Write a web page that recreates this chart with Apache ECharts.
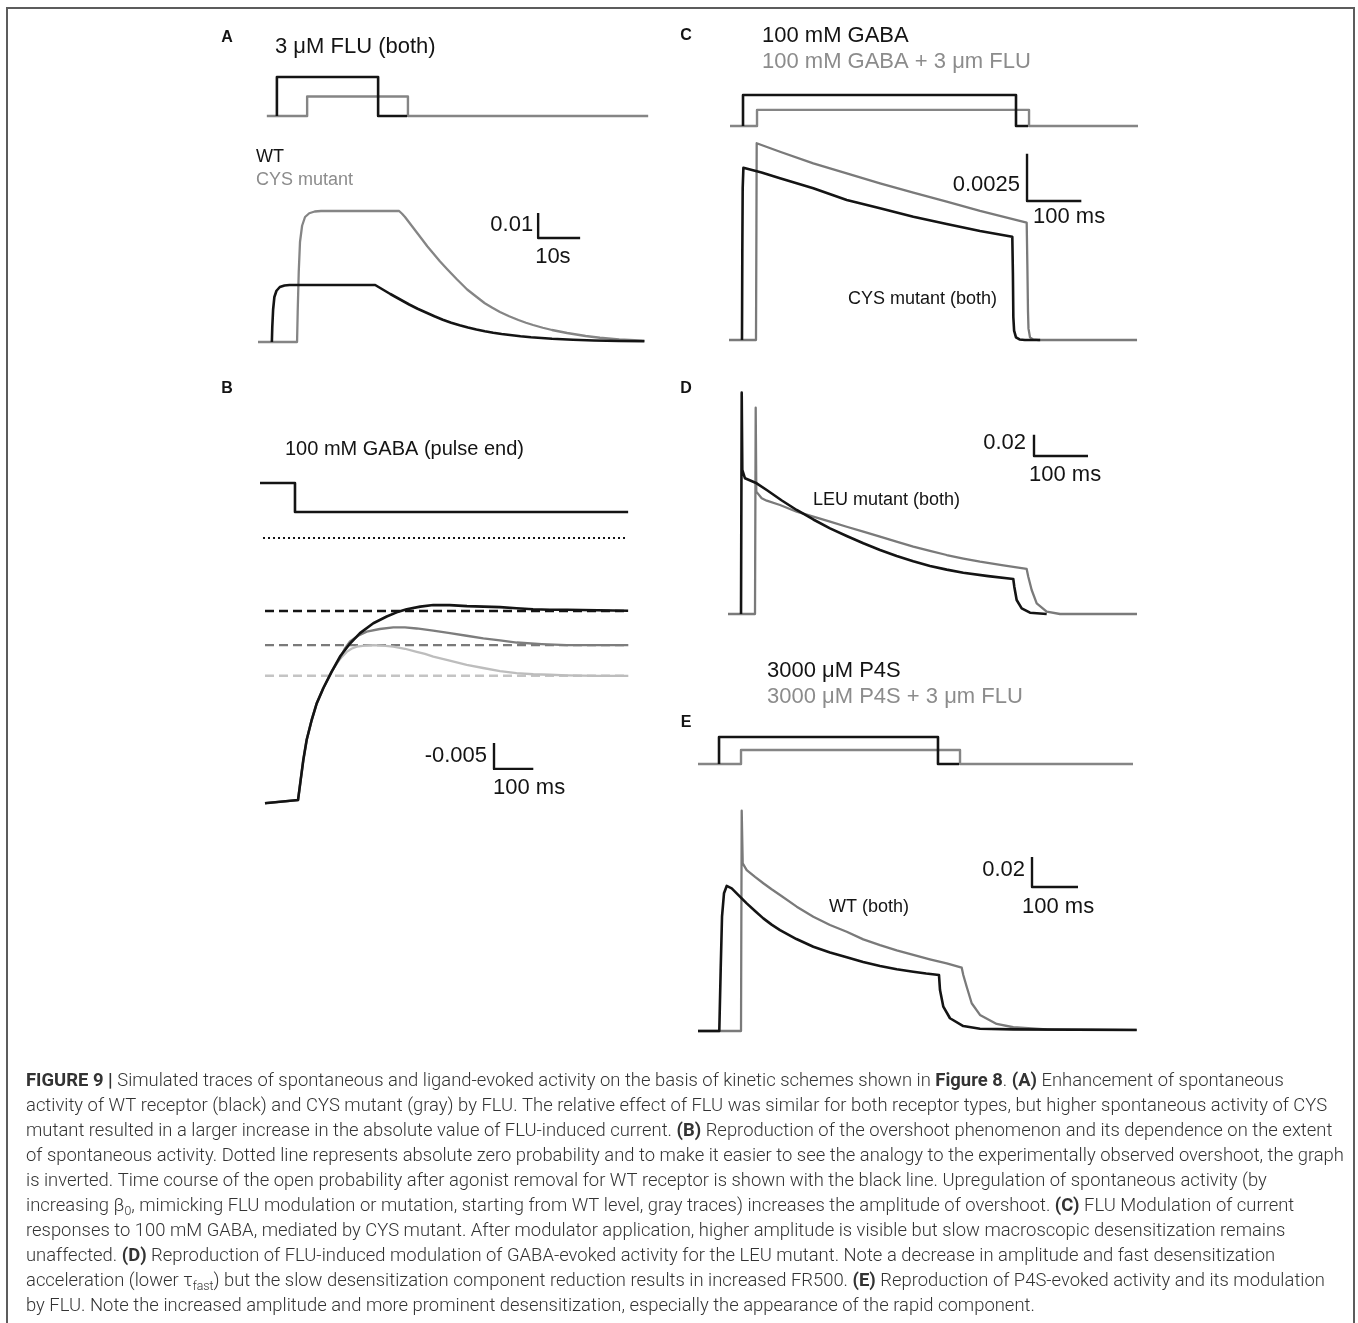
<!DOCTYPE html>
<html>
<head>
<meta charset="utf-8">
<title>Figure 9</title>
<style>
  html, body { margin: 0; padding: 0; background: #fff; }
  #fig { width: 1358px; height: 1323px; }
</style>
<script src="https://cdn.jsdelivr.net/npm/echarts@6.0.0/dist/echarts.min.js"></script>
</head>
<body>
<div id="fig"></div>
<script>
// ---------- data ----------
// A: spontaneous activity (time in s, open probability)
const aStimWT   = [[4.5,0],[4.5,1],[28.6,1],[28.6,0],[35.5,0]];
const aStimCYS  = [[2.1,0],[11.7,0],[11.7,0.5],[35.7,0.5],[35.7,0],[92.9,0]];
const aWT  = [[3.3,0],[3.4,0.006],[3.6,0.013],[3.9,0.018],[4.4,0.0205],[5.2,0.022],[6.3,0.0226],[7.5,0.0228],
  [27.9,0.0228],[29,0.0217],[30,0.0207],[31.5,0.0192],[33,0.0178],[34.5,0.0164],[36,0.015],[38,0.0133],
  [40,0.0118],[42,0.0103],[44,0.0089],[46,0.0077],[48,0.0067],[50,0.0058],[52,0.005],[54,0.0043],
  [56,0.0037],[58,0.0032],[60,0.0028],[62.5,0.0023],[65,0.0019],[67.5,0.0016],[70,0.0013],[72.5,0.0011],
  [75,0.0009],[80,0.0006],[86,0.0004],[92,0.0003]];
const aCYS = [[0,0],[9.3,0],[9.45,0.012],[9.7,0.028],[10,0.04],[10.5,0.0465],[11.2,0.05],[12.2,0.0515],
  [13.5,0.0522],[15,0.0524],[33.6,0.0524],[34.3,0.0513],[35,0.05],[36,0.0478],[37,0.0456],[38,0.0434],
  [39,0.0412],[40.3,0.0383],[41.7,0.0355],[43.3,0.0323],[45,0.0292],[47.4,0.025],[49.8,0.021],[52,0.0181],
  [54,0.0155],[55.8,0.0137],[57.6,0.012],[59.8,0.0103],[62,0.0088],[63.8,0.0077],[65.5,0.0068],[67.8,0.0057],
  [70,0.0048],[71.8,0.0042],[73.6,0.0036],[75.8,0.003],[78,0.0024],[81.4,0.0017],[86,0.001],[92,0.0005]];

// B: pulse end, inverted (time in ms)
const bStim = [[-12.7,1],[76.3,1],[76.3,0],[924,0]];
const bZero = [[-5,0],[921,0]];
const bLevels = [0.01404, 0.0206, 0.0265];
const bRise = [[0,0.051],[84,0.0504],[87.3,0.0501],[90.8,0.0465],[97.5,0.0427],[106.1,0.0388],[118.8,0.035],
  [131.6,0.0318],[148.3,0.0289],[169.7,0.0257]];
const bWT = bRise.concat([[190.8,0.0228],[216.3,0.0203],[241.7,0.0183],[275.6,0.0164],[309.7,0.0151],
  [335,0.0143],[360.6,0.0137],[395,0.0132],[428.2,0.0129],[470,0.0129],[514,0.0131],[556,0.0132],[598,0.0133],
  [640,0.0135],[682,0.0137],[725,0.0138],[768,0.0138],[846,0.0139],[924,0.014]]);
const bMid = bRise.concat([[190.8,0.0231],[203,0.0213],[216.3,0.0199],[237,0.0188],[258.8,0.018],[292,0.0175],
  [326.5,0.0172],[356,0.0172],[386,0.0174],[428,0.0178],[470.7,0.0183],[513,0.0188],[555.5,0.0193],
  [598,0.0197],[640.5,0.0201],[704,0.0204],[767.7,0.0206],[846,0.0206],[924.4,0.0206]]);
const bHigh = bRise.concat([[182.4,0.0241],[195,0.0229],[207.9,0.0219],[220,0.0213],[233.3,0.0209],[254,0.0207],
  [275.6,0.0206],[300,0.0207],[326.5,0.0209],[356,0.0213],[386,0.0219],[407,0.0223],[428.2,0.0228],
  [470,0.0236],[513.2,0.0244],[555,0.025],[598,0.0256],[640,0.026],[682.7,0.0262],[725,0.0263],
  [767.7,0.0264],[846,0.0265],[924.4,0.0265]]);

// C: 100 mM GABA, CYS mutant (ms)
const cStimGABA = [[25.8,0],[25.8,1],[528.5,1],[528.5,0],[550.6,0]];
const cStimFLU  = [[1.8,0],[51.6,0],[51.6,0.52],[552.5,0.52],[552.5,0],[753.2,0]];
const cGABA = [[23.9,0],[24.5,0.0045],[25.2,0.008],[26.5,0.0091],[27.6,0.00916],[60,0.00885],[93.9,0.00855],
  [155.2,0.00802],[216.8,0.0074],[278.1,0.00696],[339.4,0.00652],[400.9,0.00613],[462.2,0.00576],
  [521.7,0.00546],[522.8,0.0035],[523.6,0.0012],[525,0.0005],[528.5,0.00014],[535,0.00003],[545,0],[573,0]];
const cFLU = [[0,0],[49.7,0],[50.5,0.006],[51,0.0104],[93.9,0.00995],[155.2,0.00934],[216.8,0.00881],
  [278.1,0.00828],[339.4,0.00779],[400.9,0.00731],[462.2,0.00682],[548.2,0.0062],[549.4,0.004],
  [550.6,0.0015],[551.5,0.0006],[554.3,0.00014],[560,0.00003],[569.6,0],[751.4,0]];

// D: LEU mutant (ms)
const dGABA = [[24.1,0],[25.4,0.2075],[26.5,0.135],[31.5,0.1272],[53.1,0.1225],[71.7,0.1162],[99,0.1066],
  [127.2,0.0975],[158,0.0886],[188.9,0.0803],[219.8,0.0731],[250.6,0.0663],[281.5,0.06],[312.4,0.0544],
  [343,0.0495],[374.1,0.045],[405,0.0416],[435.7,0.0387],[482,0.0355],[528.3,0.0328],[530.2,0.0256],
  [534.6,0.0131],[543.9,0.0053],[559.3,0.0012],[590.2,0]];
const dFLU = [[0,0],[50,0],[51.3,0.1934],[52.4,0.1147],[62.4,0.1085],[71.7,0.1062],[96.3,0.1022],[127.2,0.0959],
  [158,0.0912],[189,0.0865],[219.8,0.0818],[250.6,0.0772],[281.5,0.0725],[312,0.0678],[343.1,0.0631],
  [374,0.0591],[405,0.0553],[436,0.052],[466.7,0.049],[510,0.0455],[553.1,0.0422],
  [556.1,0.035],[562.4,0.0225],[571.7,0.01],[590.2,0.0022],[614.8,0],[757.4,0]];

// E: 3000 uM P4S, WT (ms)
const eStimP4S = [[45.7,0],[45.7,1],[521.7,1],[521.7,0],[567.4,0]];
const eStimFLU = [[0,0],[93.5,0],[93.5,0.52],[569.6,0.52],[569.6,0],[945.7,0]];
const eP4S = [[0,0],[46.3,0],[49.3,0.0407],[52.2,0.0762],[56.5,0.0918],[62.4,0.0967],[73.3,0.0951],[89,0.0903],
  [105.9,0.0851],[124,0.08],[142,0.0751],[160,0.0709],[178.3,0.0673],[214,0.0613],[250.7,0.0562],[287,0.0524],
  [323.3,0.0491],[359,0.046],[395.7,0.0433],[432,0.0412],[468,0.0395],[496,0.0383],[523.9,0.0373],
  [526.1,0.0273],[533.3,0.0162],[547.8,0.0085],[576.7,0.0033],[613,0.0015],[685.4,0.0011],[953.7,0.0007]];
const eFLU = [[0,0],[93.5,0],[95,0.1469],[97.2,0.1118],[105.9,0.1073],[124,0.1027],[142,0.0985],[160,0.0945],
  [178.3,0.0907],[214.6,0.0829],[250.7,0.0762],[287,0.0707],[323.3,0.0662],[359.3,0.0611],[395.7,0.0573],
  [432,0.0538],[468,0.0507],[504,0.0478],[540.7,0.0451],[573.3,0.0422],[576.7,0.0373],[584.1,0.0295],
  [595,0.0185],[613,0.0107],[649.3,0.0047],[685.4,0.0025],[758,0.0011],[953.7,0.0007]];

// scale bars (A, B, C, D, E)
const scaleTimeLen   = [10, 100, 100, 100, 100];
const scaleValueLen  = [0.01, 0.005, 0.0025, 0.02, 0.02];
const scaleTimeText  = ['10s', '100 ms', '100 ms', '100 ms', '100 ms'];
const scaleValueText = ['0.01', '-0.005', '0.0025', '0.02', '0.02'];

// ---------- layout ----------
const FONT = '"Liberation Sans", Arial, Helvetica, sans-serif';
const INK = '#141414', GREY = '#858585', GREY_T = '#8c8c8c', LIGHT = '#bdbdbd';

const grids = [
  {left:258,   top:77,    width:390.6, height:39,    x:[0,93],    y:[0,1]},       // 0 A stim
  {left:258,   top:192,   width:390.6, height:150,   x:[0,93],    y:[0,0.06]},    // 1 A resp
  {left:259.1, top:483,   width:371.4, height:29,    x:[-15,930], y:[0,1]},       // 2 B stim
  {left:259.1, top:538,   width:371.4, height:275.6, x:[-15,930], y:[0,0.053], inverse:true}, // 3 B resp
  {left:729,   top:95,    width:410,   height:31,    x:[0,755],   y:[0,1]},       // 4 C stim
  {left:729,   top:131.9, width:410,   height:208.1, x:[0,755],   y:[0,0.011]},   // 5 C resp
  {left:728,   top:379.3, width:409.3, height:234.7, x:[0,758],   y:[0,0.22]},    // 6 D resp
  {left:698,   top:737,   width:439.3, height:27,    x:[0,955],   y:[0,1]},       // 7 E stim
  {left:698,   top:806,   width:439.3, height:225,   x:[0,955],   y:[0,0.15]}     // 8 E resp
];

// scale bar corners (data units) and label offsets (px)
const bars = [
  {g:1, t:66.7,  v:0.0416,  dir:1,  off:[-5,-13,-3,19]},
  {g:3, t:582.7, v:0.0444,  dir:-1, off:[-7,-13,-1,19]},
  {g:5, t:548.8, v:0.00735, dir:1,  off:[-7,-16,6,16]},
  {g:6, t:566.7, v:0.1481,  dir:1,  off:[-8,-13,-5,19]},
  {g:8, t:726.1, v:0.096,   dir:1,  off:[-7,-17,-10,20]}
];

function trace(g, data, color, width, type) {
  return {
    type: 'line', xAxisIndex: g, yAxisIndex: g, data: data,
    symbol: 'none', clip: false, silent: true, animation: false,
    lineStyle: {color: color, width: width, type: type || 'solid', cap: 'butt', join: 'round'}
  };
}

const series = [
  trace(0, aStimCYS, GREY, 2.4), trace(0, aStimWT, INK, 2.6),
  trace(1, aCYS, GREY, 2.3), trace(1, aWT, INK, 2.6),
  trace(2, bStim, INK, 2.6),
  trace(3, bZero, INK, 2, [2, 3]),
  trace(3, [[0,bLevels[0]],[924,bLevels[0]]], INK, 2.4, [9, 5]),
  trace(3, [[0,bLevels[1]],[924,bLevels[1]]], '#7a7a7a', 2.4, [9, 5]),
  trace(3, [[0,bLevels[2]],[924,bLevels[2]]], '#c4c4c4', 2.4, [9, 5]),
  trace(3, bHigh, LIGHT, 2.3), trace(3, bMid, '#7d7d7d', 2.3), trace(3, bWT, INK, 2.6),
  trace(4, cStimFLU, GREY, 2.4), trace(4, cStimGABA, INK, 2.6),
  trace(5, cFLU, '#7a7a7a', 2.3), trace(5, cGABA, INK, 2.6),
  trace(6, dFLU, '#7a7a7a', 2.3), trace(6, dGABA, INK, 2.6),
  trace(7, eStimFLU, GREY, 2.4), trace(7, eStimP4S, INK, 2.6),
  trace(8, eFLU, '#7a7a7a', 2.3), trace(8, eP4S, INK, 2.6)
];

bars.forEach(function (b, i) {
  series.push(trace(b.g, [[b.t, b.v + b.dir * scaleValueLen[i]], [b.t, b.v], [b.t + scaleTimeLen[i], b.v]], INK, 2.4));
});

function txt(x, y, s, size, color, weight, align) {
  return {type: 'text', x: x, y: y, silent: true,
    style: {text: s, fontSize: size, fontFamily: FONT, fontWeight: weight || 'normal',
      fill: color, align: align || 'left', verticalAlign: 'middle'}};
}

const labels = [
  txt(227, 38, 'A', 16, INK, 'bold', 'center'),
  txt(686, 36, 'C', 16, INK, 'bold', 'center'),
  txt(227, 389, 'B', 16, INK, 'bold', 'center'),
  txt(686, 389, 'D', 16, INK, 'bold', 'center'),
  txt(686, 723, 'E', 16, INK, 'bold', 'center'),
  txt(275, 47, '3 μM FLU (both)', 22, INK),
  txt(256, 157, 'WT', 18, INK),
  txt(256, 180, 'CYS mutant', 18, GREY_T),
  txt(762, 36, '100 mM GABA', 22, INK),
  txt(762, 62, '100 mM GABA + 3 μm FLU', 22, GREY_T),
  txt(848, 299, 'CYS mutant (both)', 18, INK),
  txt(285, 449, '100 mM GABA (pulse end)', 20, INK),
  txt(813, 500, 'LEU mutant (both)', 18, INK),
  txt(767, 671, '3000 μM P4S', 22, INK),
  txt(767, 697, '3000 μM P4S + 3 μm FLU', 22, GREY_T),
  txt(829, 907, 'WT (both)', 18, INK)
];

// ---------- caption ----------
const captionLines = [
  [['b','FIGURE 9 |'],['n',' Simulated traces of spontaneous and ligand-evoked activity on the basis of kinetic schemes shown in '],['b','Figure 8'],['n','. '],['b','(A)'],['n',' Enhancement of spontaneous']],
  [['n','activity of WT receptor (black) and CYS mutant (gray) by FLU. The relative effect of FLU was similar for both receptor types, but higher spontaneous activity of CYS']],
  [['n','mutant resulted in a larger increase in the absolute value of FLU-induced current. '],['b','(B)'],['n',' Reproduction of the overshoot phenomenon and its dependence on the extent']],
  [['n','of spontaneous activity. Dotted line represents absolute zero probability and to make it easier to see the analogy to the experimentally observed overshoot, the graph']],
  [['n','is inverted. Time course of the open probability after agonist removal for WT receptor is shown with the black line. Upregulation of spontaneous activity (by']],
  [['n','increasing β'],['s','0'],['n',', mimicking FLU modulation or mutation, starting from WT level, gray traces) increases the amplitude of overshoot. '],['b','(C)'],['n',' FLU Modulation of current']],
  [['n','responses to 100 mM GABA, mediated by CYS mutant. After modulator application, higher amplitude is visible but slow macroscopic desensitization remains']],
  [['n','unaffected. '],['b','(D)'],['n',' Reproduction of FLU-induced modulation of GABA-evoked activity for the LEU mutant. Note a decrease in amplitude and fast desensitization']],
  [['n','acceleration (lower τ'],['s','fast'],['n',') but the slow desensitization component reduction results in increased FR500. '],['b','(E)'],['n',' Reproduction of P4S-evoked activity and its modulation']],
  [['n','by FLU. Note the increased amplitude and more prominent desensitization, especially the appearance of the rapid component.']]
];
const captionRight = [1295, 1326, 1337, 1339, 1258, 1288, 1285, 1279, 1324, 1037];
const CAP_FONT = 'Roboto, "Liberation Sans", Arial, sans-serif';
const CAP_X = 26, CAP_Y = 1081, CAP_STEP = 25, CAP_COLOR = '#333';
const capStyles = {
  n: {fontSize: 18, fontWeight: 300, lineHeight: 24},
  b: {fontSize: 18, fontWeight: 'bold', lineHeight: 24},
  s: {fontSize: 12, fontWeight: 300, lineHeight: 12, verticalAlign: 'bottom'}
};

const ctx = document.createElement('canvas').getContext('2d');
function lineWidth(line) {
  return line.reduce(function (w, seg) {
    const st = capStyles[seg[0]];
    ctx.font = st.fontWeight + ' ' + st.fontSize + 'px ' + CAP_FONT;
    return w + ctx.measureText(seg[1]).width;
  }, 0);
}
let ratioSum = 0;
captionLines.forEach(function (l, i) { ratioSum += (captionRight[i] - CAP_X) / lineWidth(l); });
const capScale = ratioSum / captionLines.length;

const rich = {};
Object.keys(capStyles).forEach(function (k) {
  rich[k] = Object.assign({fontFamily: CAP_FONT, fill: CAP_COLOR}, capStyles[k]);
});
const caption = captionLines.map(function (line, i) {
  return {type: 'text', x: CAP_X, y: CAP_Y + i * CAP_STEP, scaleX: capScale, silent: true,
    style: {text: line.map(function (s) { return '{' + s[0] + '|' + s[1] + '}'; }).join(''),
      rich: rich, fontSize: 18, fontFamily: CAP_FONT, fill: CAP_COLOR, verticalAlign: 'middle'}};
});

const frame = {type: 'rect', silent: true, shape: {x: 7, y: 8, width: 1347, height: 1340},
  style: {fill: 'none', stroke: '#5c5c5c', lineWidth: 2}};

// ---------- chart ----------
const chart = echarts.init(document.getElementById('fig'), null, {renderer: 'canvas'});
chart.setOption({
  animation: false,
  backgroundColor: '#fff',
  grid: grids.map(function (g) { return {left: g.left, top: g.top, width: g.width, height: g.height, show: false}; }),
  xAxis: grids.map(function (g, i) { return {type: 'value', gridIndex: i, min: g.x[0], max: g.x[1], show: false}; }),
  yAxis: grids.map(function (g, i) { return {type: 'value', gridIndex: i, min: g.y[0], max: g.y[1], inverse: !!g.inverse, show: false}; }),
  series: series
});

const barLabels = [];
bars.forEach(function (b, i) {
  const p = chart.convertToPixel({gridIndex: b.g}, [b.t, b.v]);
  barLabels.push(txt(p[0] + b.off[0], p[1] + b.off[1], scaleValueText[i], 22, INK, 'normal', 'right'));
  barLabels.push(txt(p[0] + b.off[2], p[1] + b.off[3], scaleTimeText[i], 22, INK, 'normal', 'left'));
});

chart.setOption({graphic: [frame].concat(labels, barLabels, caption)});
</script>
</body>
</html>
